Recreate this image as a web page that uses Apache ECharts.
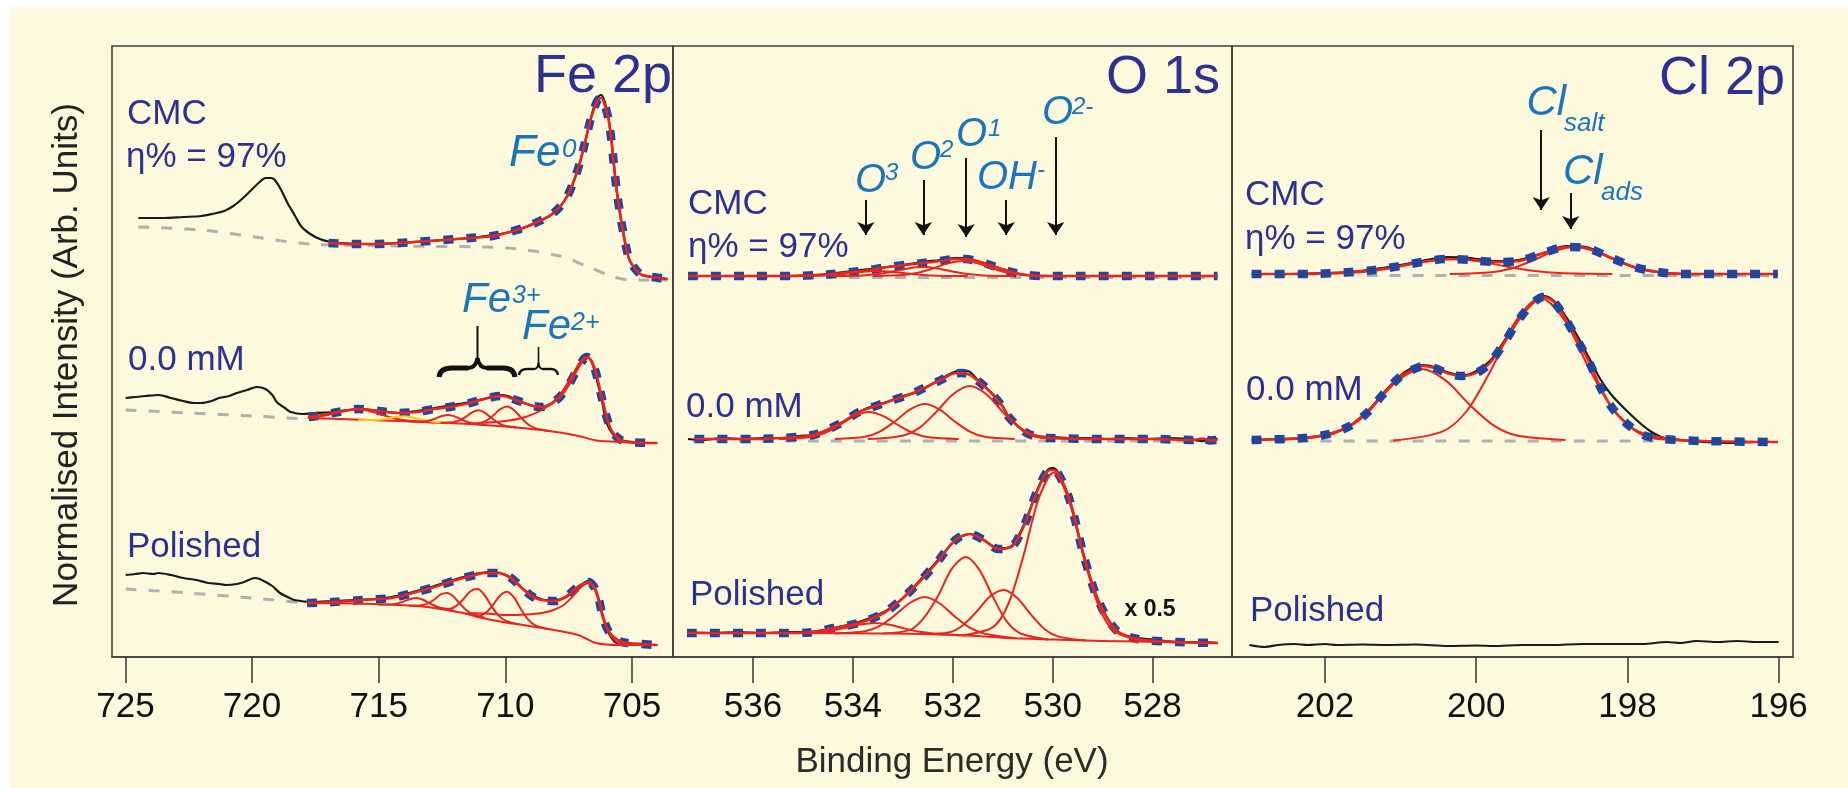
<!DOCTYPE html>
<html><head><meta charset="utf-8">
<script src="https://cdn.jsdelivr.net/npm/echarts@6/dist/echarts.min.js"></script>
<style>
html,body{margin:0;padding:0;background:#fff;width:1848px;height:788px;overflow:hidden}
#paper{position:absolute;left:10px;top:7px;width:1838px;height:781px;background:#fdf9dc}
#chart{position:absolute;left:0;top:0;width:1848px;height:788px}
</style></head>
<body><div id="paper"></div><div id="chart"></div>
<script>
// Tick labels of the three binding-energy axes
const feTicks = [725, 720, 715, 710, 705];
const oTicks = [536, 534, 532, 530, 528];
const clTicks = [202, 200, 198, 196];

// ---------- Fe 2p : [binding energy (eV), stacked intensity] ----------
const feCmcRaw = [[724.49,439],[723.5,439],[722.72,440],[722.0,441],[721.58,443],[721.1,446],[720.74,451],[720.4,458],[720.03,467],[719.7,475],[719.47,479],[719.25,479],[719.1,477],[718.85,467],[718.6,454],[718.3,441],[718.04,430],[717.7,423],[717.33,418],[716.9,415],[716.5,414],[715.5,413],[714.22,414],[713.0,416],[711.39,419],[710.5,422],[709.98,424],[709.3,429],[708.56,437],[708.2,442],[707.85,450],[707.55,461],[707.28,477],[707.05,495],[706.86,514],[706.65,536],[706.5,550],[706.3,561],[706.22,562],[706.1,557],[705.93,540],[705.8,515],[705.72,494],[705.6,466],[705.43,437],[705.25,412],[705.08,396],[704.8,386],[704.6,382],[704.2,380],[703.6,378]];
const feCmcFit = [[716.98,414],[716.0,413],[715.0,413],[714.22,414],[713.0,416],[711.39,419],[710.5,421],[709.98,424],[709.3,429],[708.56,437],[708.2,442],[707.85,450],[707.55,461],[707.28,477],[707.05,495],[706.86,514],[706.65,536],[706.5,548],[706.35,557],[706.22,559],[706.1,554],[705.93,538],[705.8,514],[705.72,494],[705.6,466],[705.43,437],[705.25,412],[705.08,396],[704.8,386],[704.6,382],[704.2,380],[703.6,378]];
const feCmcBase = [[724.49,430],[722.0,427],[719.9,420],[717.77,413],[714.22,411],[709.98,409],[707.85,401],[706.71,390],[705.72,380],[705.0,377],[703.6,377]];

const feMidRaw = [[724.99,259],[724.6,260],[724.2,261],[723.7,262],[723.2,259],[722.72,256],[722.3,254],[722.0,254],[721.6,256],[721.3,259],[720.9,261],[720.6,264],[720.2,267],[719.81,270],[719.47,268],[719.2,262],[719.03,255],[718.7,249],[718.47,245],[718.0,243],[717.5,244],[716.77,245],[716.2,247],[715.64,248],[715.0,246],[714.22,244],[713.5,246],[712.8,249],[712.1,252],[711.39,255],[710.7,259],[710.2,262],[709.9,261],[709.5,256],[709.26,254],[708.9,251],[708.56,250],[708.2,253],[707.85,262],[707.5,274],[707.13,290],[706.78,300],[706.6,296],[706.42,280],[706.2,258],[706.0,234],[705.7,221],[705.43,217],[705.0,215],[704.5,214],[704.02,214]];
const feMidFit = [[717.77,240],[717.2,242],[716.6,245],[715.8,248],[715.0,246],[714.22,244],[713.5,245],[712.8,248],[712.2,250],[711.4,254],[711.0,257],[710.5,260],[710.1,261],[709.7,258],[709.26,254],[708.9,251],[708.56,250],[708.2,253],[707.85,260],[707.5,272],[707.13,289],[706.9,298],[706.78,300],[706.6,296],[706.42,284],[706.2,260],[706.0,240],[705.8,226],[705.5,218],[705.2,215],[704.02,214]];
const feMidBase = [[724.99,247],[722.5,244],[720.0,241],[717.9,238]];
const feMidBg = [[717.8,239],[716.0,237.5],[714.2,236],[712.8,234.5],[711.4,233],[710.0,230.5],[708.6,227],[707.85,224.5],[707.1,221],[706.4,216.5],[705.4,215],[704.0,214]];
const feMidSat = [[717.8,239.6],[717.3,240.7],[716.8,243.3],[716.3,246.3],[715.8,247.4],[715.3,245.4],[714.8,241.6],[714.3,238.2],[713.8,236.2],[712.8,234.5]];
const feMidMinor = [[715.8,236.8],[715.2,236.9],[714.9,237.4],[714.6,238.7],[714.3,240.2],[714.0,240.8],[713.7,239.8],[713.4,237.9],[713.1,236.2],[712.8,235.3],[712.2,234.6]];
const feMidP1 = [[713.75,235.5],[713.25,235.5],[713.0,236.5],[712.75,238.5],[712.5,241],[712.25,242.1],[712.0,240.6],[711.75,237.7],[711.5,235],[711.25,233.5],[710.75,232]];
const feMidP2 = [[712.55,234.3],[712.05,234.8],[711.8,236.6],[711.55,240.3],[711.3,244.9],[711.05,246.7],[710.8,244.1],[710.55,239],[710.3,234.4],[710.05,231.5],[709.55,229.5]];
const feMidP3 = [[711.57,233.3],[711.02,234],[710.745,236.4],[710.47,241.8],[710.195,247.9],[709.92,250.4],[709.645,246.5],[709.37,239.1],[709.095,232.5],[708.82,228.9],[708.27,226]];
const feMidMetal = [[711.0,234],[710.0,236],[709.2,240],[708.5,248],[707.9,260],[707.4,280],[707.0,297],[706.78,300],[706.5,290],[706.2,262],[705.9,232],[705.6,219],[705.2,215],[704.0,214]];

const feBotRaw = [[724.99,82],[724.6,83],[724.3,84],[723.9,83],[723.7,84],[723.2,82],[722.72,79],[722.2,77],[721.73,74],[721.3,73],[721.02,72],[720.6,73],[720.31,75],[719.89,79],[719.7,78],[719.47,75],[719.2,71],[718.9,64],[718.6,60],[718.33,57],[717.62,55],[716.8,56],[716.0,57],[715.2,58],[714.5,60],[713.66,65],[712.8,71],[711.81,79],[711.0,84],[710.5,85],[710.0,82],[709.6,75],[709.26,67],[708.8,60],[708.4,57],[708.0,57],[707.6,60],[707.2,68],[706.9,74],[706.75,76],[706.55,73],[706.35,60],[706.15,40],[705.9,23],[705.6,14],[705.16,13],[704.0,12]];
const feBotFit = [[717.83,54],[716.8,55],[715.63,57],[714.5,59],[713.66,64],[712.8,70],[711.81,78],[711.2,82],[710.82,84],[710.26,84],[709.83,80],[709.5,73],[709.26,67],[708.9,60],[708.56,57],[707.99,56],[707.7,59],[707.42,64],[707.1,71],[706.85,74],[706.7,75],[706.55,72],[706.43,67],[706.3,57],[706.15,40],[705.95,27],[705.72,20],[705.4,15],[705.16,14],[704.02,12]];
const feBotBase = [[724.99,68],[722.5,64],[720.0,59],[717.9,54]];
const feBotBg = [[717.83,54],[716.0,53.5],[714.2,52],[713.5,51],[712.8,49],[712.3,47],[711.4,42.5],[711.1,40],[710.0,34.5],[709.3,32],[708.56,29],[707.13,22],[706.42,14],[705.5,12],[704.0,12]];
const feBotP1 = [[715.0,52.5],[714.5,52.5],[714.25,53.6],[714.0,55.6],[713.75,58],[713.5,59],[713.25,57.2],[713.0,53.8],[712.75,50.7],[712.5,48.7],[712.0,46]];
const feBotP2 = [[713.8,51.3],[713.3,51.7],[713.05,53.6],[712.8,57.5],[712.55,62.6],[712.3,64],[712.05,60.6],[711.8,53.5],[711.55,47.1],[711.3,43.1],[710.8,39]];
const feBotP3 = [[712.75,49],[712.2,48.3],[711.925,51.4],[711.65,58],[711.375,65.8],[711.1,68],[710.825,62],[710.55,51],[710.275,41.6],[710.0,36.3],[709.45,32.5]];
const feBotP4 = [[711.58,43.5],[711.03,41.4],[710.755,44.7],[710.48,52.3],[710.205,61.5],[709.93,65.2],[709.655,59.3],[709.38,47.8],[709.105,37.7],[708.83,31.9],[708.28,27.7]];
const feBotMetal = [[711.5,44],[710.5,43],[709.98,42],[709.2,42.5],[708.56,44],[708.1,47],[707.7,52],[707.4,59],[707.13,67],[706.9,72],[706.71,74],[706.5,69],[706.3,56],[706.1,38],[705.9,24],[705.6,15],[705.2,12],[704.0,12]];

// ---------- O 1s ----------
const oCmcRaw = [[537.3,381],[535.5,381],[534.74,382],[534.4,383.5],[534.02,386],[533.65,388],[533.31,390],[532.95,392.5],[532.59,395],[532.25,397],[531.95,399],[531.75,399],[531.52,396],[531.25,392],[531.02,388],[530.75,384],[530.52,382],[530.2,381],[526.7,381]];
const oCmcFit = [[537.3,381],[536.0,381],[535.2,381],[534.74,382],[534.4,383],[534.02,385],[533.65,387],[533.31,390],[532.95,392],[532.59,394],[532.25,396],[531.95,398],[531.75,398],[531.52,396],[531.25,392],[531.02,388],[530.75,384],[530.52,382],[530.2,381],[529.5,381],[528.0,381],[526.7,381]];
const oCmcBase = [[537.3,379.5],[526.7,379.5]];
const oCmcP1 = [[535.3,381],[534.7,381.3],[534.4,382.1],[534.1,383.5],[533.8,385.2],[533.5,386],[533.2,385.2],[532.9,383.5],[532.6,382.1],[532.3,381.3],[531.7,381]];
const oCmcP2 = [[534.4,381],[533.8,381.6],[533.5,382.9],[533.2,385.5],[532.9,388.6],[532.6,390],[532.3,388.6],[532.0,385.5],[531.7,382.9],[531.4,381.6],[530.8,381]];
const oCmcP3 = [[533.6,381],[533.0,381.9],[532.7,384.2],[532.4,388.5],[532.1,393.6],[531.8,396],[531.5,393.6],[531.2,388.5],[530.9,384.2],[530.6,381.9],[530.0,381]];

const oMidRaw = [[537.3,218],[537.0,217],[536.6,219],[536.2,218],[535.8,219],[535.4,219],[535.1,221],[534.8,222],[534.52,227],[534.2,235],[533.88,245],[533.6,251],[533.31,255],[533.0,261],[532.7,265],[532.45,272],[532.2,279],[532.02,284],[531.9,286],[531.81,285],[531.7,286],[531.52,278],[531.35,270],[531.16,261],[531.0,251],[530.88,240],[530.7,231],[530.52,224],[530.3,221],[530.09,220],[529.7,219],[529.3,219],[528.9,218],[528.5,219],[528.1,218],[527.7,219],[527.3,218],[527.0,216],[526.8,219],[526.7,218]];
const oMidFit = [[537.17,218],[536.0,218],[535.1,220],[534.8,222],[534.52,227],[534.2,235],[533.88,245],[533.6,250],[533.31,255],[532.95,261],[532.7,266],[532.45,272],[532.2,278],[532.02,283],[531.81,284],[531.65,282],[531.52,277],[531.35,270],[531.16,260],[531.0,250],[530.88,240],[530.7,231],[530.52,224],[530.3,220],[530.09,219],[529.0,218],[528.0,218],[527.2,217],[527.0,218.5],[526.85,216.5],[526.7,217]];
const oMidBase = [[537.2,216],[526.7,216]];
const oMidP1 = [[535.48,218],[534.88,219.7],[534.58,223.7],[534.28,231.5],[533.98,240.7],[533.68,245],[533.38,240.7],[533.08,231.5],[532.78,223.7],[532.48,219.7],[531.88,218]];
const oMidP2 = [[534.36,218],[533.76,220.2],[533.46,225.4],[533.16,235.5],[532.86,247.4],[532.56,253],[532.26,247.4],[531.96,235.5],[531.66,225.4],[531.36,220.2],[530.76,218]];
const oMidP3 = [[533.7,218],[533.01,221.3],[532.67,229.1],[532.34,244.5],[532.0,262.5],[531.66,271],[531.32,262.5],[530.99,244.5],[530.65,229.1],[530.31,221.3],[529.6,218]];

const oPolRaw = [[537.32,25],[536.8,24],[536.3,25],[535.8,24],[535.3,25],[534.88,25],[534.38,29],[533.88,35],[533.38,45],[533.02,58],[532.67,76],[532.31,96],[531.95,117],[531.8,121],[531.66,123],[531.5,121],[531.38,117],[531.2,111],[531.09,109],[530.95,109],[530.8,112],[530.55,135],[530.3,168],[530.1,187],[530.0,189],[529.91,186],[529.66,157],[529.37,100],[529.09,57],[528.73,26],[528.5,21],[528.3,19],[527.9,17],[527.5,15],[527.0,15],[526.69,14]];
const oPolFit = [[537.32,24],[536.0,24],[535.3,24],[534.88,24.5],[534.38,29],[533.88,34],[533.38,44],[533.02,58],[532.67,75],[532.31,95],[531.95,117],[531.66,123],[531.38,117],[531.09,108],[530.8,111],[530.55,134],[530.3,167],[530.05,187],[529.91,185],[529.66,157],[529.37,100],[529.09,57],[528.73,27],[528.3,18],[527.5,15],[526.69,14]];
const oPolBg = [[537.32,24],[535.0,24],[533.5,23.5],[532.6,23],[531.5,21],[530.9,19],[530.0,17.5],[529.0,16],[528.3,15.5],[526.69,14]];
const oPolO3 = [[535.36,24],[534.76,24.7],[534.46,26.2],[534.16,29],[533.86,32.4],[533.56,34],[533.26,32.2],[532.96,28.4],[532.66,25.2],[532.36,23.3],[531.76,21.5]];
const oPolO2 = [[534.36,23.5],[533.76,25.8],[533.46,31.2],[533.16,41.7],[532.86,54],[532.56,60],[532.26,53.5],[531.96,40.5],[531.66,29.3],[531.36,23.3],[530.76,19]];
const oPolO1 = [[533.39,23.5],[532.84,27.4],[532.57,39.6],[532.29,61.5],[532.02,88.1],[531.74,100],[531.47,87.4],[531.19,59.5],[530.92,35.6],[530.64,23.5],[530.09,17.6]];
const oPolOH = [[532.63,23],[532.08,24.5],[531.81,31.3],[531.53,45],[531.26,60.3],[530.98,67],[530.71,59],[530.43,42.2],[530.16,27.8],[529.88,20.4],[529.33,16.5]];
const oPolOxide = [[531.78,21.8],[531.18,30.4],[530.88,54],[530.58,102],[530.28,158.3],[529.98,184.5],[529.68,157.3],[529.38,100],[529.08,51],[528.78,26.2],[528.18,15.6]];

// ---------- Cl 2p ----------
const clCmcRaw = [[202.97,383],[202.5,383],[202.0,384],[201.67,385],[201.34,388],[201.01,392],[200.72,396],[200.39,400],[200.08,399],[199.9,397],[199.75,396],[199.44,397],[199.11,404],[198.81,411],[198.55,410],[198.21,399],[197.91,390],[197.6,385],[197.31,383],[196.8,383],[196.01,383]];
const clCmcFit = [[202.97,383],[202.2,383],[201.67,385],[201.34,387],[201.01,391],[200.72,395],[200.39,398],[200.08,397],[199.75,395],[199.44,396],[199.11,404],[198.81,410],[198.55,409],[198.21,399],[197.91,390],[197.6,385],[197.31,383],[196.5,383],[196.01,383]];
const clCmcBase = [[202.97,381.5],[196.01,381.5]];
const clCmcSalt = [[202.4,383],[201.7,383.9],[201.35,386.2],[201.0,390.5],[200.65,395.6],[200.3,398],[199.95,395.6],[199.6,390.5],[199.25,386.2],[198.9,383.9],[198.2,383]];
const clCmcAds = [[200.35,383],[199.8,384.7],[199.525,388.7],[199.25,396.5],[198.975,405.7],[198.7,410],[198.425,405.7],[198.15,396.5],[197.875,388.7],[197.6,384.7],[197.05,383]];

const clMidRaw = [[202.97,217],[202.6,218],[202.28,219],[201.95,223],[201.67,231],[201.43,246],[201.24,263],[201.01,281],[200.85,289],[200.7,292],[200.55,290],[200.39,285],[200.2,282],[200.08,283],[199.82,296],[199.63,316],[199.44,339],[199.25,355],[199.11,361],[198.97,356],[198.81,340],[198.64,318],[198.5,298],[198.36,278],[198.21,262],[198.02,247],[197.85,235],[197.7,226],[197.55,220],[197.3,217],[197.0,215],[196.6,214],[196.3,215],[196.01,215]];
const clMidFit = [[202.97,217],[202.28,219],[201.95,223],[201.67,231],[201.43,245],[201.24,262],[201.01,280],[200.85,287],[200.7,291],[200.55,289],[200.39,284],[200.2,281],[200.08,282],[199.95,286],[199.82,294],[199.63,314],[199.44,337],[199.25,354],[199.11,360],[198.97,355],[198.81,337],[198.64,314],[198.5,294],[198.36,270],[198.21,250],[198.02,234],[197.79,222],[197.55,218],[197.0,216],[196.01,215]];
const clMidBase = [[202.97,216],[196.01,216]];
const clMidSalt = [[202.62,217],[201.98,221.4],[201.665,231.9],[201.35,252.5],[201.035,276.6],[200.72,288],[200.405,276.6],[200.09,252.5],[199.775,231.9],[199.46,221.4],[198.82,217]];
const clMidAds = [[201.1,216.5],[200.45,225.4],[200.125,246],[199.8,287.5],[199.475,336],[199.15,359],[198.825,336],[198.5,287.5],[198.175,246],[197.85,225.4],[197.2,216]];

const clPolRaw = [[203.0,12],[202.8,10],[202.62,12],[202.4,13],[202.23,12],[202.0,13],[201.85,12],[201.5,12.5],[201.19,12],[200.8,12.5],[200.37,11],[200.0,11.5],[199.77,11],[199.4,12],[199.0,12],[198.6,13],[198.19,13],[197.8,13],[197.48,15],[197.3,14],[197.09,16],[196.8,15],[196.55,16],[196.3,15],[196.0,15]];

// Arrow markers: [energy, tail, tip]
const oArrows = [[533.74,457,422],[532.59,477,422],[531.73,499,420],[530.93,457,422],[529.94,520,422]];
const clArrows = [[199.14,527,447],[198.75,464,428]];

const FONT = "'Liberation Sans', Arial, Helvetica, sans-serif";
const NAVY = '#2e3192', CYAN = '#1b75bc', RED = '#e8251e', BLUE = '#2246a0', GREY = '#b0b0b0', INK = '#1a1a1a';

function line(g, data, color, width, type, extra) {
  return Object.assign({
    type: 'line', xAxisIndex: g, yAxisIndex: g, data: data, symbol: 'none', smooth: 0.3,
    silent: true, animation: false,
    lineStyle: { color: color, width: width, type: type || 'solid', cap: 'butt', join: 'round' }
  }, extra || {});
}
const raw = (g, d, extra) => line(g, d, INK, 2.2, 'solid', extra);
const base = (g, d) => line(g, d, GREY, 3, [11, 12]);
const fitDash = (g, d) => line(g, d, BLUE, 8.5, [10, 13]);
const comp = (g, d, c) => line(g, d, c || RED, 2);
const env = (g, d) => line(g, d, RED, 2.6);

function arrows(list) {
  return {
    silent: true, symbol: ['none', 'arrow'], symbolSize: 13, animation: false,
    label: { show: false }, lineStyle: { color: '#111', width: 2, type: 'solid' },
    data: list.map(a => [{ coord: [a[0], a[1]] }, { coord: [a[0], a[2]] }])
  };
}

const series = [
  // Fe 2p
  base(0, feCmcBase), raw(0, feCmcRaw), fitDash(0, feCmcFit), env(0, feCmcFit),
  base(0, feMidBase), raw(0, feMidRaw), fitDash(0, feMidFit),
  comp(0, feMidBg), comp(0, feMidSat), comp(0, feMidMinor, '#f2d00c'), comp(0, feMidP1), comp(0, feMidP2), comp(0, feMidP3), comp(0, feMidMetal), env(0, feMidFit),
  base(0, feBotBase), raw(0, feBotRaw), fitDash(0, feBotFit),
  comp(0, feBotBg), comp(0, feBotP1), comp(0, feBotP2), comp(0, feBotP3), comp(0, feBotP4), comp(0, feBotMetal), env(0, feBotFit),
  // O 1s
  base(1, oCmcBase), raw(1, oCmcRaw, { markLine: arrows(oArrows) }), fitDash(1, oCmcFit),
  comp(1, oCmcP1), comp(1, oCmcP2), comp(1, oCmcP3), env(1, oCmcFit),
  base(1, oMidBase), raw(1, oMidRaw), fitDash(1, oMidFit),
  comp(1, oMidP1), comp(1, oMidP2), comp(1, oMidP3), env(1, oMidFit),
  raw(1, oPolRaw), fitDash(1, oPolFit),
  comp(1, oPolBg), comp(1, oPolO3), comp(1, oPolO2), comp(1, oPolO1), comp(1, oPolOH), comp(1, oPolOxide), env(1, oPolFit),
  // Cl 2p (dashed fit drawn over the red lines here)
  base(2, clCmcBase), raw(2, clCmcRaw, { markLine: arrows(clArrows) }),
  comp(2, clCmcSalt), comp(2, clCmcAds), env(2, clCmcFit), fitDash(2, clCmcFit),
  base(2, clMidBase), raw(2, clMidRaw),
  comp(2, clMidSalt), comp(2, clMidAds), env(2, clMidFit), fitDash(2, clMidFit),
  raw(2, clPolRaw)
];

const panels = [
  { min: 703.38, max: 725.53, ticks: feTicks, left: 112, width: 561 },
  { min: 526.41, max: 537.6, ticks: oTicks, left: 673, width: 559 },
  { min: 195.81, max: 203.23, ticks: clTicks, left: 1232, width: 561 }
];

function txt(x, y, s, size, color, o) {
  o = o || {};
  const al = o.align || 'left';
  return {
    type: 'text', x: x, y: y, rotation: o.rotation || 0, silent: true, z: 100,
    style: {
      text: s, fontSize: size, fontFamily: FONT, fill: color,
      fontStyle: o.italic ? 'italic' : 'normal', fontWeight: o.bold ? 'bold' : 'normal',
      align: al, textAlign: al, verticalAlign: 'middle', textVerticalAlign: 'middle'
    }
  };
}
const it = { italic: true };
function bez(x1, y1, cx, cy, x2, y2, w) {
  return { type: 'bezierCurve', silent: true, z: 100, shape: { x1: x1, y1: y1, cpx1: cx, cpy1: cy, x2: x2, y2: y2 }, style: { stroke: '#111', lineWidth: w, fill: null } };
}
function seg(x1, y1, x2, y2, w) {
  return { type: 'line', silent: true, z: 100, shape: { x1: x1, y1: y1, x2: x2, y2: y2 }, style: { stroke: '#111', lineWidth: w } };
}

const graphics = [
  txt(672, 77, 'Fe 2p', 54, NAVY, { align: 'right' }),
  txt(1220, 78, 'O 1s', 54, NAVY, { align: 'right' }),
  txt(1785, 79.5, 'Cl 2p', 54, NAVY, { align: 'right' }),

  txt(127, 114.5, 'CMC', 35, NAVY), txt(126, 157.5, 'η% = 97%', 35, NAVY),
  txt(128, 360, '0.0 mM', 35, NAVY), txt(127, 547.5, 'Polished', 35, NAVY),
  txt(688, 204.5, 'CMC', 35, NAVY), txt(688, 247.5, 'η% = 97%', 35, NAVY),
  txt(686, 407.5, '0.0 mM', 35, NAVY), txt(690, 595.5, 'Polished', 35, NAVY),
  txt(1245, 195, 'CMC', 35, NAVY), txt(1245, 239.5, 'η% = 97%', 35, NAVY),
  txt(1246, 390, '0.0 mM', 35, NAVY), txt(1250, 611.5, 'Polished', 35, NAVY),
  txt(1124.5, 609.5, 'x 0.5', 23, '#111', { bold: true }),

  txt(509, 154, 'Fe', 44, CYAN, it), txt(562, 150, '0', 26, CYAN, it),
  txt(462, 300, 'Fe', 42, CYAN, it), txt(512, 296.5, '3+', 25, CYAN, it),
  txt(522, 327, 'Fe', 42, CYAN, it), txt(571, 323.5, '2+', 25, CYAN, it),

  txt(855, 181, 'O', 40, CYAN, it), txt(885, 173.5, '3', 24, CYAN, it),
  txt(910, 157.5, 'O', 40, CYAN, it), txt(940, 150, '2', 24, CYAN, it),
  txt(956, 135, 'O', 40, CYAN, it), txt(988, 129.5, '1', 24, CYAN, it),
  txt(977, 178, 'OH', 40, CYAN, it), txt(1037, 170, '-', 24, CYAN, it),
  txt(1042, 113, 'O', 40, CYAN, it), txt(1072, 107.5, '2-', 24, CYAN, it),

  txt(1526.5, 103, 'Cl', 42, CYAN, it), txt(1564, 124, 'salt', 26, CYAN, it),
  txt(1563, 172, 'Cl', 42, CYAN, it), txt(1601, 193, 'ads', 26, CYAN, it),

  // braces grouping the oxidised Fe states
  bez(439, 377, 440, 368, 452, 368, 5), seg(452, 368, 468, 368, 5),
  bez(468, 368, 476, 368, 477.5, 358, 4), bez(477.5, 358, 479, 368, 487, 368, 4),
  seg(487, 368, 503, 368, 5), bez(503, 368, 514, 368, 515, 377, 5),
  seg(477.5, 359, 477.5, 326, 2),
  bez(519, 375, 520, 369, 527, 369, 2.4), seg(527, 369, 534, 369, 2.4),
  bez(534, 369, 538, 369, 538.5, 363, 2), bez(538.5, 363, 539, 369, 543, 369, 2),
  seg(543, 369, 551, 369, 2.4), bez(551, 369, 557, 369, 558, 375, 2.4),
  seg(538.5, 364, 538.5, 347, 1.6),

  txt(67, 355, 'Normalised Intensity (Arb. Units)', 35, '#222', { align: 'center', rotation: Math.PI / 2 }),
  txt(952, 762, 'Binding Energy (eV)', 35, '#2b2b2b', { align: 'center' })
];

const chart = echarts.init(document.getElementById('chart'), null, { renderer: 'canvas' });
chart.setOption({
  animation: false,
  backgroundColor: 'transparent',
  grid: panels.map(p => ({ left: p.left, top: 46, width: p.width, height: 611, show: true, borderColor: '#3d3d3d', borderWidth: 1.6, backgroundColor: 'transparent' })),
  xAxis: panels.map((p, i) => ({
    type: 'value', gridIndex: i, min: p.min, max: p.max, inverse: true,
    splitLine: { show: false },
    axisLine: { show: true, onZero: false, lineStyle: { color: '#3d3d3d', width: 1.6 } },
    axisTick: { show: true, inside: false, length: 26, customValues: p.ticks, lineStyle: { color: '#333', width: 1.5 } },
    axisLabel: { show: true, customValues: p.ticks, margin: 33, fontSize: 35, color: '#111', fontFamily: FONT, formatter: v => String(v) }
  })),
  yAxis: panels.map((p, i) => ({ type: 'value', gridIndex: i, min: 0, max: 611, show: false, splitLine: { show: false } })),
  series: series,
  graphic: graphics
});
</script>
</body></html>
